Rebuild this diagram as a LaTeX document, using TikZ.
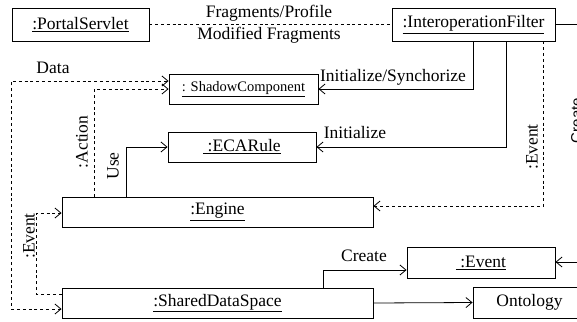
\documentclass[tikz,border=0pt]{standalone}
\usepackage{fontspec}
\setmainfont{Liberation Serif}
\newfontfamily\createsans{Liberation Sans}
\usetikzlibrary{arrows.meta,calc}
\begin{document}
\begin{tikzpicture}[x=1pt,y=-1pt,
  font=\fontsize{17.5}{20}\selectfont,
  >={Straight Barb[length=6pt,width=10pt,line width=0.8pt]},
  line width=0.8pt,
  obj/.style={draw,line width=0.9pt,inner sep=0pt,minimum height=30pt},
  dsh/.style={dash pattern=on 3pt off 2.8pt},
  lbl/.style={inner sep=0pt}]
\clip (0,0) rectangle (577,321);
\fill[white] (0,0) rectangle (577,321);
% boxes
\node[obj,minimum width=137pt,minimum height=33pt] (ps) at (80.5,24.5) {\underline{:PortalServlet}};
\node[obj,minimum width=163pt,minimum height=33pt] (if) at (473.5,24.5) {\underline{:InteroperationFilter}};
\node[obj,minimum width=149pt,font=\fontsize{14.5}{16}\selectfont] (sc) at (243.5,89) {\underline{: ShadowComponent}};
\node[obj,minimum width=148pt] (eca) at (242,147) {\underline{\ :ECARule}};
\node[obj,minimum width=311pt] (engine) at (217.5,212) {\underline{:Engine}};
\node[obj,minimum width=311pt] (sds) at (217.5,303) {\underline{:SharedDataSpace}};
\node[obj,minimum width=148pt,minimum height=31pt] (ev) at (481,262.5) {\underline{\ :Event}};
\node[obj,minimum width=113pt,minimum height=31pt] (ont) at (529.5,302.5) {Ontology};
% connectors
\draw[dsh] (ps.east) -- (if.west);
\draw[->] (if.east) -- ++(40,0) |- ($(ev.east)+(0,-0.5)$);
\draw[->] (if.south) |- (sc.east);
\draw[->] ($(if.south)+(32.5,0)$) |- (eca.east);
\draw[->,dsh] ($(if.south east)+(-12,0)$) |- ($(engine.east)+(0,-6)$);
\draw[->] ($(engine.north west)+(65,0)$) |- (eca.west);
\draw[->,dsh] ($(engine.north west)+(33,0)$) |- (sc.west);
\draw[<->,dsh] ($(sds.west)+(0,6)$) -- ++(-50,0) |- ($(sc.west)+(0,-8)$);
\draw[->,dsh] ($(sds.west)+(0,-9)$) -- ++(-25,0) |- ($(engine.west)+(0,1)$);
\draw[->] ($(sds.north west)+(262,0)$) |- ($(ev.west)+(0,7.5)$);
\draw[->] (sds.east) -- (ont.west);
% labels
\node[lbl] (lfrag) at (269,13) {Fragments/Profile};
\node[lbl] (lmod) at (269,35) {Modified Fragments};
\node[lbl] (ldata) at (53,68) {Data};
\node[lbl] (linitsync) at (393,77) {Initialize/Synchorize};
\node[lbl] (linit) at (355,133) {Initialize};
\node[lbl,rotate=90] (laction) at (82,142) {:Action};
\node[lbl,rotate=90] (luse) at (113,166) {Use};
\node[lbl,rotate=90] (levr) at (532,147) {:Event};
\node[lbl,rotate=90] (levl) at (29,236) {:Event};
\node[lbl] (lcreate) at (364,256) {Create};
\node[lbl,rotate=90,anchor=base,font=\createsans\fontsize{15}{17}\selectfont] (lcreater) at (581.5,120.5) {Create};
\end{tikzpicture}
\end{document}
